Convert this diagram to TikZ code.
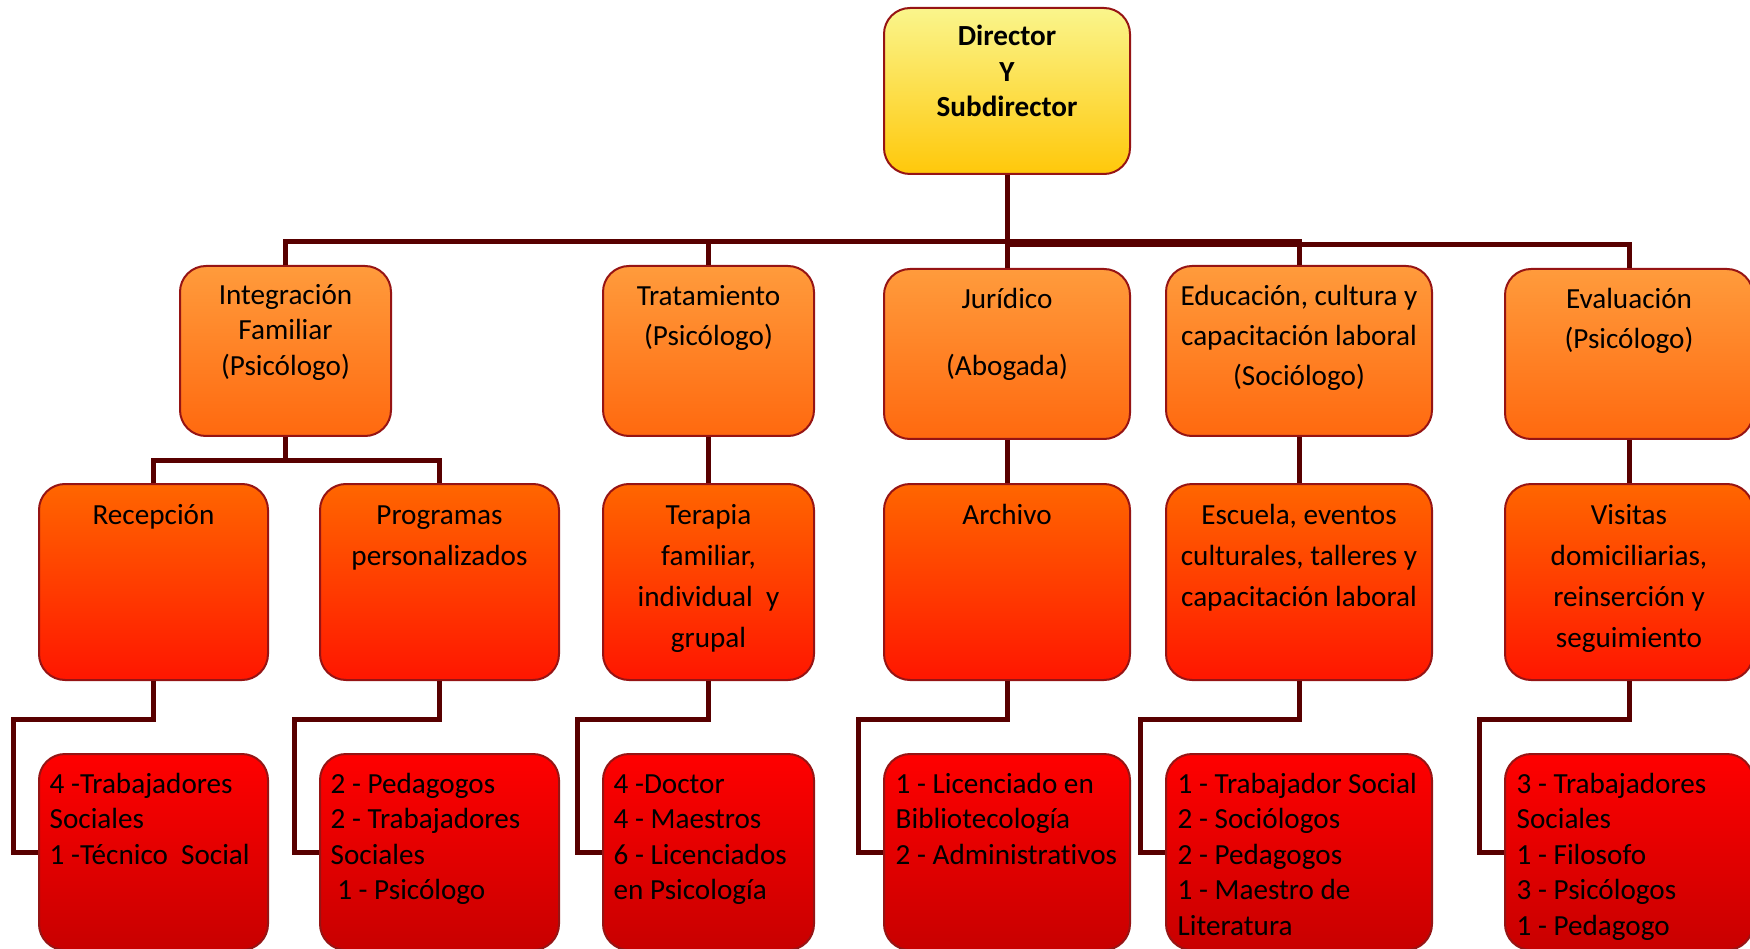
\documentclass[tikz,border=0pt]{standalone}
\usepackage{fontspec}
\setmainfont{Carlito}[Ligatures=NoCommon]
\usetikzlibrary{calc}
\definecolor{linkred}{RGB}{88,0,0}
\definecolor{edgered}{RGB}{150,20,20}
\definecolor{headtop}{RGB}{250,245,140}
\definecolor{headbot}{RGB}{255,200,10}
\definecolor{areatop}{RGB}{255,155,60}
\definecolor{areabot}{RGB}{255,105,15}
\definecolor{tasktop}{RGB}{255,102,0}
\definecolor{taskbot}{RGB}{255,22,0}
\definecolor{stafftop}{RGB}{255,0,0}
\definecolor{staffbot}{RGB}{200,0,0}
\tikzstyle{box}=[rectangle, rounded corners=2.6mm, draw=edgered, line width=0.2mm, inner sep=0pt]
\tikzstyle{boxhead}=[box, top color=headtop, bottom color=headbot, minimum height=16.6mm]
\tikzstyle{boxarea}=[box, top color=areatop, bottom color=areabot, minimum height=17mm]
\tikzstyle{boxtask}=[box, top color=tasktop, bottom color=taskbot, minimum height=19.6mm]
\tikzstyle{boxstaff}=[box, top color=stafftop, bottom color=staffbot, minimum height=19.6mm]
\tikzstyle{link}=[draw=linkred, line width=0.5mm]
\tikzstyle{txt}=[anchor=north, inner sep=0pt, align=center, font=\fontsize{8.3}{11.4}\selectfont]
\tikzstyle{txtlist}=[anchor=north west, inner sep=0pt, align=left, font=\fontsize{8.3}{10.1}\selectfont]

\begin{document}
\begin{tikzpicture}[x=0.1mm, y=-0.1mm]
	\useasboundingbox (0,0) rectangle (1750,949);
	\begin{scope}
		% direccion
		\node (dir) at (1007, 91)[boxhead, minimum width=24.6mm] {};
		% areas
		\node (integ) at (285.5, 351)[boxarea, minimum width=21.1mm] {};
		\node (trat) at (708.5, 351)[boxarea, minimum width=21.1mm] {};
		\node (jur) at (1007, 354)[boxarea, minimum width=24.6mm] {};
		\node (educ) at (1299, 351)[boxarea, minimum width=26.6mm] {};
		\node (eval) at (1629, 354)[boxarea, minimum width=24.8mm] {};
		% tareas
		\node (recep) at (153.5, 582)[boxtask, minimum width=22.9mm] {};
		\node (prog) at (439.5, 582)[boxtask, minimum width=23.9mm] {};
		\node (terap) at (708.5, 582)[boxtask, minimum width=21.1mm] {};
		\node (arch) at (1007, 582)[boxtask, minimum width=24.6mm] {};
		\node (escu) at (1299, 582)[boxtask, minimum width=26.6mm] {};
		\node (visit) at (1629, 582)[boxtask, minimum width=24.8mm] {};
		% personal
		\node (recepP) at (153.5, 852)[boxstaff, minimum width=22.9mm] {};
		\node (progP) at (439.5, 852)[boxstaff, minimum width=23.9mm] {};
		\node (terapP) at (708.5, 852)[boxstaff, minimum width=21.1mm] {};
		\node (archP) at (1007, 852)[boxstaff, minimum width=24.6mm] {};
		\node (escuP) at (1299, 852)[boxstaff, minimum width=26.6mm] {};
		\node (visitP) at (1629, 852)[boxstaff, minimum width=24.8mm] {};
	\end{scope}
	\begin{scope}
		\node (dirT) at ($(dir.north)+(0,13)$)[txt, font=\bfseries\fontsize{8.3}{10.1}\selectfont] {\strut Director\\Y\\Subdirector};
		\node (integT) at ($(integ.north)+(0,13.5)$)[txt, font=\fontsize{8.3}{10.1}\selectfont] {\strut Integración\\Familiar\\(Psicólogo)};
		\node (tratT) at ($(trat.north)+(0,11.5)$)[txt] {\strut Tratamiento\\(Psicólogo)};
		\node (jurT) at ($(jur.north)+(0,11.5)$)[txt] {\strut Jurídico\\[7.7pt](Abogada)};
		\node (educT) at ($(educ.north)+(0,11.5)$)[txt] {\strut Educación, cultura y\\capacitación laboral\\(Sociólogo)};
		\node (evalT) at ($(eval.north)+(0,11.5)$)[txt] {\strut Evaluación\\(Psicólogo)};
		\node (recepT) at ($(recep.north)+(0,12)$)[txt, font=\fontsize{8.3}{11.7}\selectfont] {\strut Recepción};
		\node (progT) at ($(prog.north)+(0,12)$)[txt, font=\fontsize{8.3}{11.7}\selectfont] {\strut Programas\\personalizados};
		\node (terapT) at ($(terap.north)+(0,12)$)[txt, font=\fontsize{8.3}{11.7}\selectfont] {\strut Terapia\\familiar,\\individual\ \ y\\grupal};
		\node (archT) at ($(arch.north)+(0,12)$)[txt, font=\fontsize{8.3}{11.7}\selectfont] {\strut Archivo};
		\node (escuT) at ($(escu.north)+(0,12)$)[txt, font=\fontsize{8.3}{11.7}\selectfont] {\strut Escuela, eventos\\culturales, talleres y\\capacitación laboral};
		\node (visitT) at ($(visit.north)+(0,12)$)[txt, font=\fontsize{8.3}{11.7}\selectfont] {\strut Visitas\\domiciliarias,\\reinserción y\\seguimiento};
		\node (recepPT) at ($(recepP.north west)+(11,14.5)$)[txtlist] {\strut 4 -Trabajadores\\Sociales\\1 -Técnico\ \ Social};
		\node (progPT) at ($(progP.north west)+(11,14.5)$)[txtlist] {\strut 2 - Pedagogos\\2 - Trabajadores\\Sociales\\\ 1 - Psicólogo};
		\node (terapPT) at ($(terapP.north west)+(11,14.5)$)[txtlist] {\strut 4 -Doctor\\4 - Maestros\\6 - Licenciados\\en Psicología};
		\node (archPT) at ($(archP.north west)+(12,14.5)$)[txtlist] {\strut 1 - Licenciado en\\Bibliotecología\\2 - Administrativos};
		\node (escuPT) at ($(escuP.north west)+(12,14.5)$)[txtlist] {\strut 1 - Trabajador Social\\2 - Sociólogos\\2 - Pedagogos\\1 - Maestro de\\Literatura};
		\node (visitPT) at ($(visitP.north west)+(12,14.5)$)[txtlist] {\strut 3 - Trabajadores\\Sociales\\1 - Filosofo\\3 - Psicólogos\\1 - Pedagogo};
	\end{scope}
	\begin{scope}
		\coordinate (bar) at ($(dir.south)+(0,67)$);
		\coordinate (barR) at ($(dir.south)+(0,70)$);
		\coordinate (fork) at ($(integ.south)+(0,24)$);
		\path [link] (dir.south) -- (jur.north);
		\path [link] (integ.north) |- (bar) -| (educ.north);
		\path [link] (trat.north) |- (bar);
		\path [link] (barR) -| (eval.north);
		\path [link] (integ.south) -- (fork);
		\path [link] (recep.north) |- (fork) -| (prog.north);
		\path [link] (trat.south) -- (terap.north);
		\path [link] (jur.south) -- (arch.north);
		\path [link] (educ.south) -- (escu.north);
		\path [link] (eval.south) -- (visit.north);
		\foreach \a/\b in {recep/recepP, prog/progP, terap/terapP, arch/archP, escu/escuP, visit/visitP}
			\path [link] (\a.south) -- ++(0,38) -| ($(\b.west)+(-25,0)$) -- (\b.west);
	\end{scope}
\end{tikzpicture}
\end{document}
